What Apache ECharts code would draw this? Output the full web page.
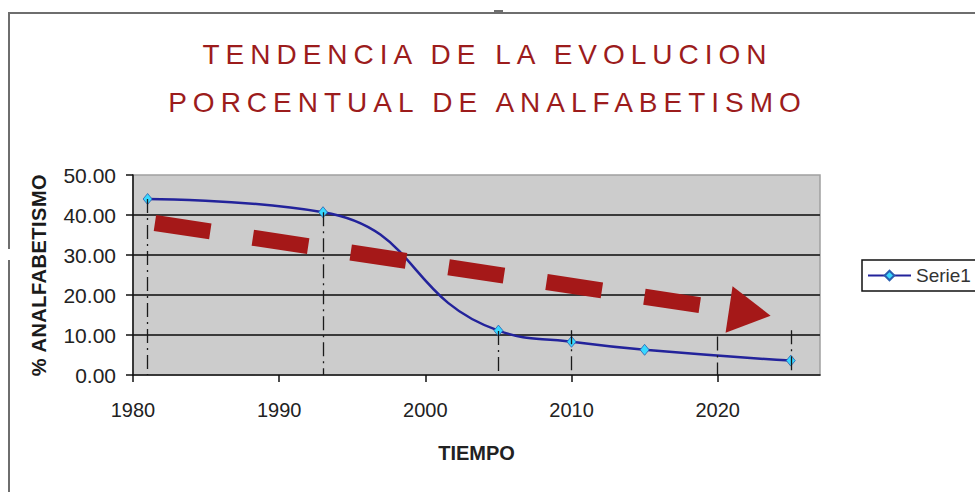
<!DOCTYPE html>
<html>
<head>
<meta charset="utf-8">
<script src="https://cdn.jsdelivr.net/npm/echarts@6/dist/echarts.min.js"></script>
<style>
  html, body { margin: 0; padding: 0; background: #fff; }
  #chart { width: 975px; height: 492px; }
  /* espaciado de letras del titulo (solo SVG) */
  #chart text[fill="#9c1c1c"] { letter-spacing: 6px; }
  #chart text[fill="#1b1b1b"] { letter-spacing: 0.5px; }
</style>
</head>
<body>
<div id="chart"></div>
<script>
// datos
var years = [1981, 1993, 2005, 2010, 2015, 2025];
var values = [44.0, 40.7, 11.1, 8.3, 6.3, 3.6];
var xTicks = [1980, 1990, 2000, 2010, 2020];
// lineas verticales punto-raya
var dropYears = [1981, 1993, 2005, 2010, 2020, 2025];
var dropTops = [44.0, 40.7, 11.0, 11.2, 9.6, 11.2];
// flecha de tendencia
var trendYears = [1981.5, 2022.2];
var trendValues = [38.0, 15.6];

var font = "'Liberation Sans', Arial, sans-serif";

var chart = echarts.init(document.getElementById('chart'), null, { renderer: 'svg' });

var dropData = dropYears.map(function (y, i) {
  return [{ coord: [y, dropTops[i]] }, { coord: [y, 0] }];
});

chart.setOption({
  animation: false,
  title: {
    text: 'TENDENCIA DE LA EVOLUCION\nPORCENTUAL DE ANALFABETISMO',
    left: 'center',
    top: 25,
    textStyle: {
      color: '#9c1c1c',
      fontFamily: font,
      fontWeight: 'normal',
      fontSize: 28,
      lineHeight: 48
    }
  },
  legend: {
    left: 862,
    top: 260,
    padding: [6, 6, 6, 5],
    itemWidth: 43,
    itemHeight: 12,
    borderColor: '#111',
    borderWidth: 1.5,
    backgroundColor: '#fff',
    textStyle: { color: '#333', fontFamily: font, fontSize: 19 },
    data: ['Serie1']
  },
  grid: {
    left: 133,
    right: 155,
    top: 175,
    bottom: 117,
    show: true,
    backgroundColor: '#cccccc',
    borderColor: '#a0a0a0',
    borderWidth: 1.5
  },
  xAxis: {
    type: 'value',
    min: 1980,
    max: 2027,
    name: 'TIEMPO',
    nameLocation: 'middle',
    nameGap: 68,
    nameTextStyle: { color: '#222', fontFamily: font, fontWeight: 'bold', fontSize: 20 },
    axisLine: { lineStyle: { color: '#111', width: 1.5 } },
    axisTick: { customValues: xTicks, length: 7, lineStyle: { color: '#111', width: 1.5 } },
    axisLabel: {
      customValues: xTicks,
      margin: 25,
      color: '#222',
      fontFamily: font,
      fontSize: 20,
      formatter: function (v) { return String(v); }
    },
    splitLine: { show: false }
  },
  yAxis: {
    type: 'value',
    min: 0,
    max: 50,
    interval: 10,
    name: '% ANALFABETISMO',
    nameLocation: 'middle',
    nameGap: 84,
    nameRotate: 90,
    nameTextStyle: { color: '#1b1b1b', fontFamily: font, fontWeight: 'bold', fontSize: 20 },
    axisLine: { show: true, lineStyle: { color: '#111', width: 1.5 } },
    axisTick: { show: true, length: 7, lineStyle: { color: '#111', width: 1.5 } },
    axisLabel: {
      margin: 17,
      color: '#222',
      fontFamily: font,
      fontSize: 21,
      formatter: function (v) { return v.toFixed(2); }
    },
    splitLine: {
      show: true,
      showMinLine: false,
      showMaxLine: false,
      lineStyle: { color: '#3a3a3a', width: 2 }
    }
  },
  series: [
    {
      // lineas punto-raya hasta el eje
      type: 'line',
      data: [],
      silent: true,
      z: 1,
      markLine: {
        silent: true,
        symbol: 'none',
        label: { show: false },
        emphasis: { disabled: true },
        lineStyle: { color: '#1a1a1a', width: 1.3, type: [14, 5, 2, 5] },
        data: dropData
      }
    },
    {
      name: 'Serie1',
      type: 'line',
      data: years.map(function (y, i) { return [y, values[i]]; }),
      smooth: 0.5,
      z: 3,
      symbol: 'diamond',
      symbolSize: [9, 11],
      lineStyle: { color: '#23239b', width: 2.5 },
      itemStyle: { color: '#38d8ff', borderColor: '#2a5fb0', borderWidth: 0.8 }
    },
    {
      // flecha roja discontinua
      type: 'line',
      data: [],
      silent: true,
      z: 4,
      markLine: {
        silent: true,
        label: { show: false },
        emphasis: { disabled: true },
        lineStyle: { color: '#a51818', width: 16, type: [56, 43], cap: 'butt', opacity: 1 },
        data: [[
          { coord: [trendYears[0], trendValues[0]], symbol: 'none' },
          { coord: [trendYears[1], trendValues[1]], symbol: 'triangle', symbolSize: [47, 42] }
        ]]
      }
    }
  ],
  graphic: [
    {
      type: 'polyline',
      silent: true,
      shape: { points: [[9, 249], [9, 13], [975, 13]] },
      style: { stroke: '#6e6e6e', lineWidth: 2, fill: null }
    },
    {
      type: 'line',
      silent: true,
      shape: { x1: 9, y1: 260, x2: 9, y2: 492 },
      style: { stroke: '#6e6e6e', lineWidth: 2 }
    },
    {
      type: 'line',
      silent: true,
      shape: { x1: 494, y1: 11, x2: 503, y2: 11 },
      style: { stroke: '#6e6e6e', lineWidth: 2 }
    }
  ]
});
</script>
</body>
</html>
